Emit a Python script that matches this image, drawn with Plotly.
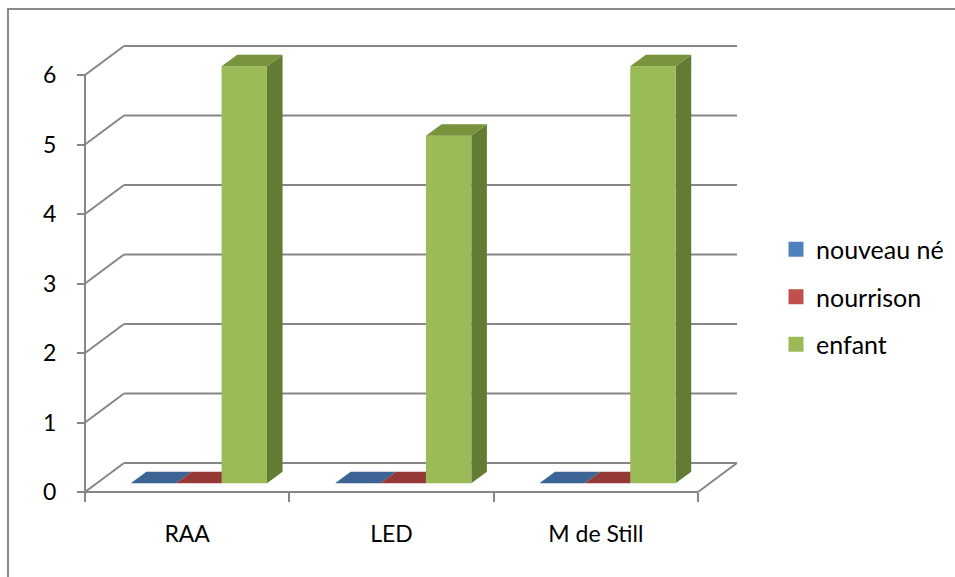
import plotly.graph_objects as go

# ---- data -------------------------------------------------------------
categories = ["RAA", "LED", "M de Still"]
series_names = ["nouveau né", "nourrison", "enfant"]
nouveau_ne = [0, 0, 0]
nourrison = [0, 0, 0]
enfant = [6, 5, 6]
y_ticks = [0, 1, 2, 3, 4, 5, 6]

# ---- style --------------------------------------------------------------
FONT = "Lato"
GRID = "#868686"
face_colors = {
    # front, top, side
    "nouveau né": ("#4F81BD", "#3C6595", "#2F5079"),
    "nourrison": ("#C0504D", "#953937", "#7C2D2B"),
    "enfant": ("#9BBB59", "#77933C", "#627D33"),
}

W, H = 955, 577
UX = 204.33           # pixels per category
UY = 69.5             # pixels per value unit
X0, Y0 = 85, 492      # pixel position of the front-left floor corner
DX = 39 / UX          # depth shift of the back wall (data units)
DY = 29 / UY
D_FRONT, D_BACK = 0.3, 0.7     # depth span occupied by the columns
BAR_W = 1 / 4.5                # 150 % gap width
GAP_HALF = 0.75 * BAR_W

fig = go.Figure()

def poly(xs, ys, color, name):
    fig.add_trace(go.Scatter(
        x=xs + [xs[0]], y=ys + [ys[0]], mode="lines", fill="toself",
        fillcolor=color, line=dict(width=0, color=color),
        hoverinfo="skip", showlegend=False, name=name))

values = {"nouveau né": nouveau_ne, "nourrison": nourrison, "enfant": enfant}

# 3D columns, drawn back-to-front / left-to-right
for i, cat in enumerate(categories):
    for j, name in enumerate(series_names):
        v = values[name][i]
        front, top, side = face_colors[name]
        xl = i + GAP_HALF + j * BAR_W
        xr = xl + BAR_W
        fx0, fx1 = xl + D_FRONT * DX, xr + D_FRONT * DX
        bx0, bx1 = xl + D_BACK * DX, xr + D_BACK * DX
        fy, by = D_FRONT * DY, D_BACK * DY
        if v > 0:
            poly([fx1, bx1, bx1, fx1], [fy, by, v + by, v + fy], side, name)
            poly([fx0, fx1, fx1, fx0], [fy, fy, v + fy, v + fy], front, name)
        poly([fx0, fx1, bx1, bx0], [v + fy, v + fy, v + by, v + by], top, name)

# legend entries
for name in series_names:
    fig.add_trace(go.Scatter(
        x=[None], y=[None], mode="markers", name=name, legendgroup=name,
        marker=dict(symbol="square", size=15, color=face_colors[name][0])))

# walls: gridlines on side and back walls, floor outline, front axis
shapes = []
line = dict(color=GRID, width=2)
for v in y_ticks:
    shapes.append(dict(type="line", xref="x", yref="y", layer="below",
                       x0=0, y0=v, x1=DX, y1=v + DY, line=line))
    shapes.append(dict(type="line", xref="x", yref="y", layer="below",
                       x0=DX, y0=v + DY, x1=len(categories) + DX, y1=v + DY,
                       line=line))
n = len(categories)
shapes.append(dict(type="line", xref="x", yref="y", layer="below",
                   x0=0, y0=0, x1=n, y1=0, line=line))
shapes.append(dict(type="line", xref="x", yref="y", layer="below",
                   x0=n, y0=0, x1=n + DX, y1=DY, line=line))
shapes.append(dict(type="line", xref="x", yref="y", layer="below",
                   x0=0, y0=0, x1=0, y1=max(y_ticks), line=line))
# chart border
shapes.append(dict(type="rect", xref="paper", yref="paper",
                   x0=8 / W, y0=-0.05, x1=1.05, y1=1 - 9 / H,
                   line=dict(color="#8A8A8A", width=2)))

fig.update_layout(
    width=W, height=H,
    margin=dict(l=0, r=0, t=0, b=0),
    paper_bgcolor="white", plot_bgcolor="white",
    shapes=shapes,
    showlegend=True,
    legend=dict(x=(796 - 20) / W, xanchor="left", y=1 - 297 / H, yanchor="middle",
                font=dict(family=FONT, size=25, color="#000000"),
                tracegroupgap=12, bgcolor="rgba(0,0,0,0)"),
    xaxis=dict(
        range=[-X0 / UX, (W - X0) / UX], domain=[0, 1],
        anchor="free", position=(H - Y0) / H,
        showgrid=False, zeroline=False, showline=False,
        tickmode="array", tickvals=[k + 0.5 for k in range(n)], ticktext=categories,
        ticks="", ticklabelstandoff=26,
        tickfont=dict(family=FONT, size=23, color="#000000"),
        minor=dict(tickmode="array", tickvals=list(range(n + 1)), ticks="outside",
                   ticklen=9, tickwidth=2, tickcolor=GRID, showgrid=False),
    ),
    yaxis=dict(
        range=[-(H - Y0) / UY, Y0 / UY], domain=[0, 1],
        anchor="free", position=X0 / W,
        showgrid=False, zeroline=False, showline=False,
        tickmode="array", tickvals=y_ticks,
        ticks="outside", ticklen=8, tickwidth=2, tickcolor=GRID,
        ticklabelstandoff=16,
        tickfont=dict(family=FONT, size=23, color="#000000"),
    ),
)

fig.write_html("out.html")
